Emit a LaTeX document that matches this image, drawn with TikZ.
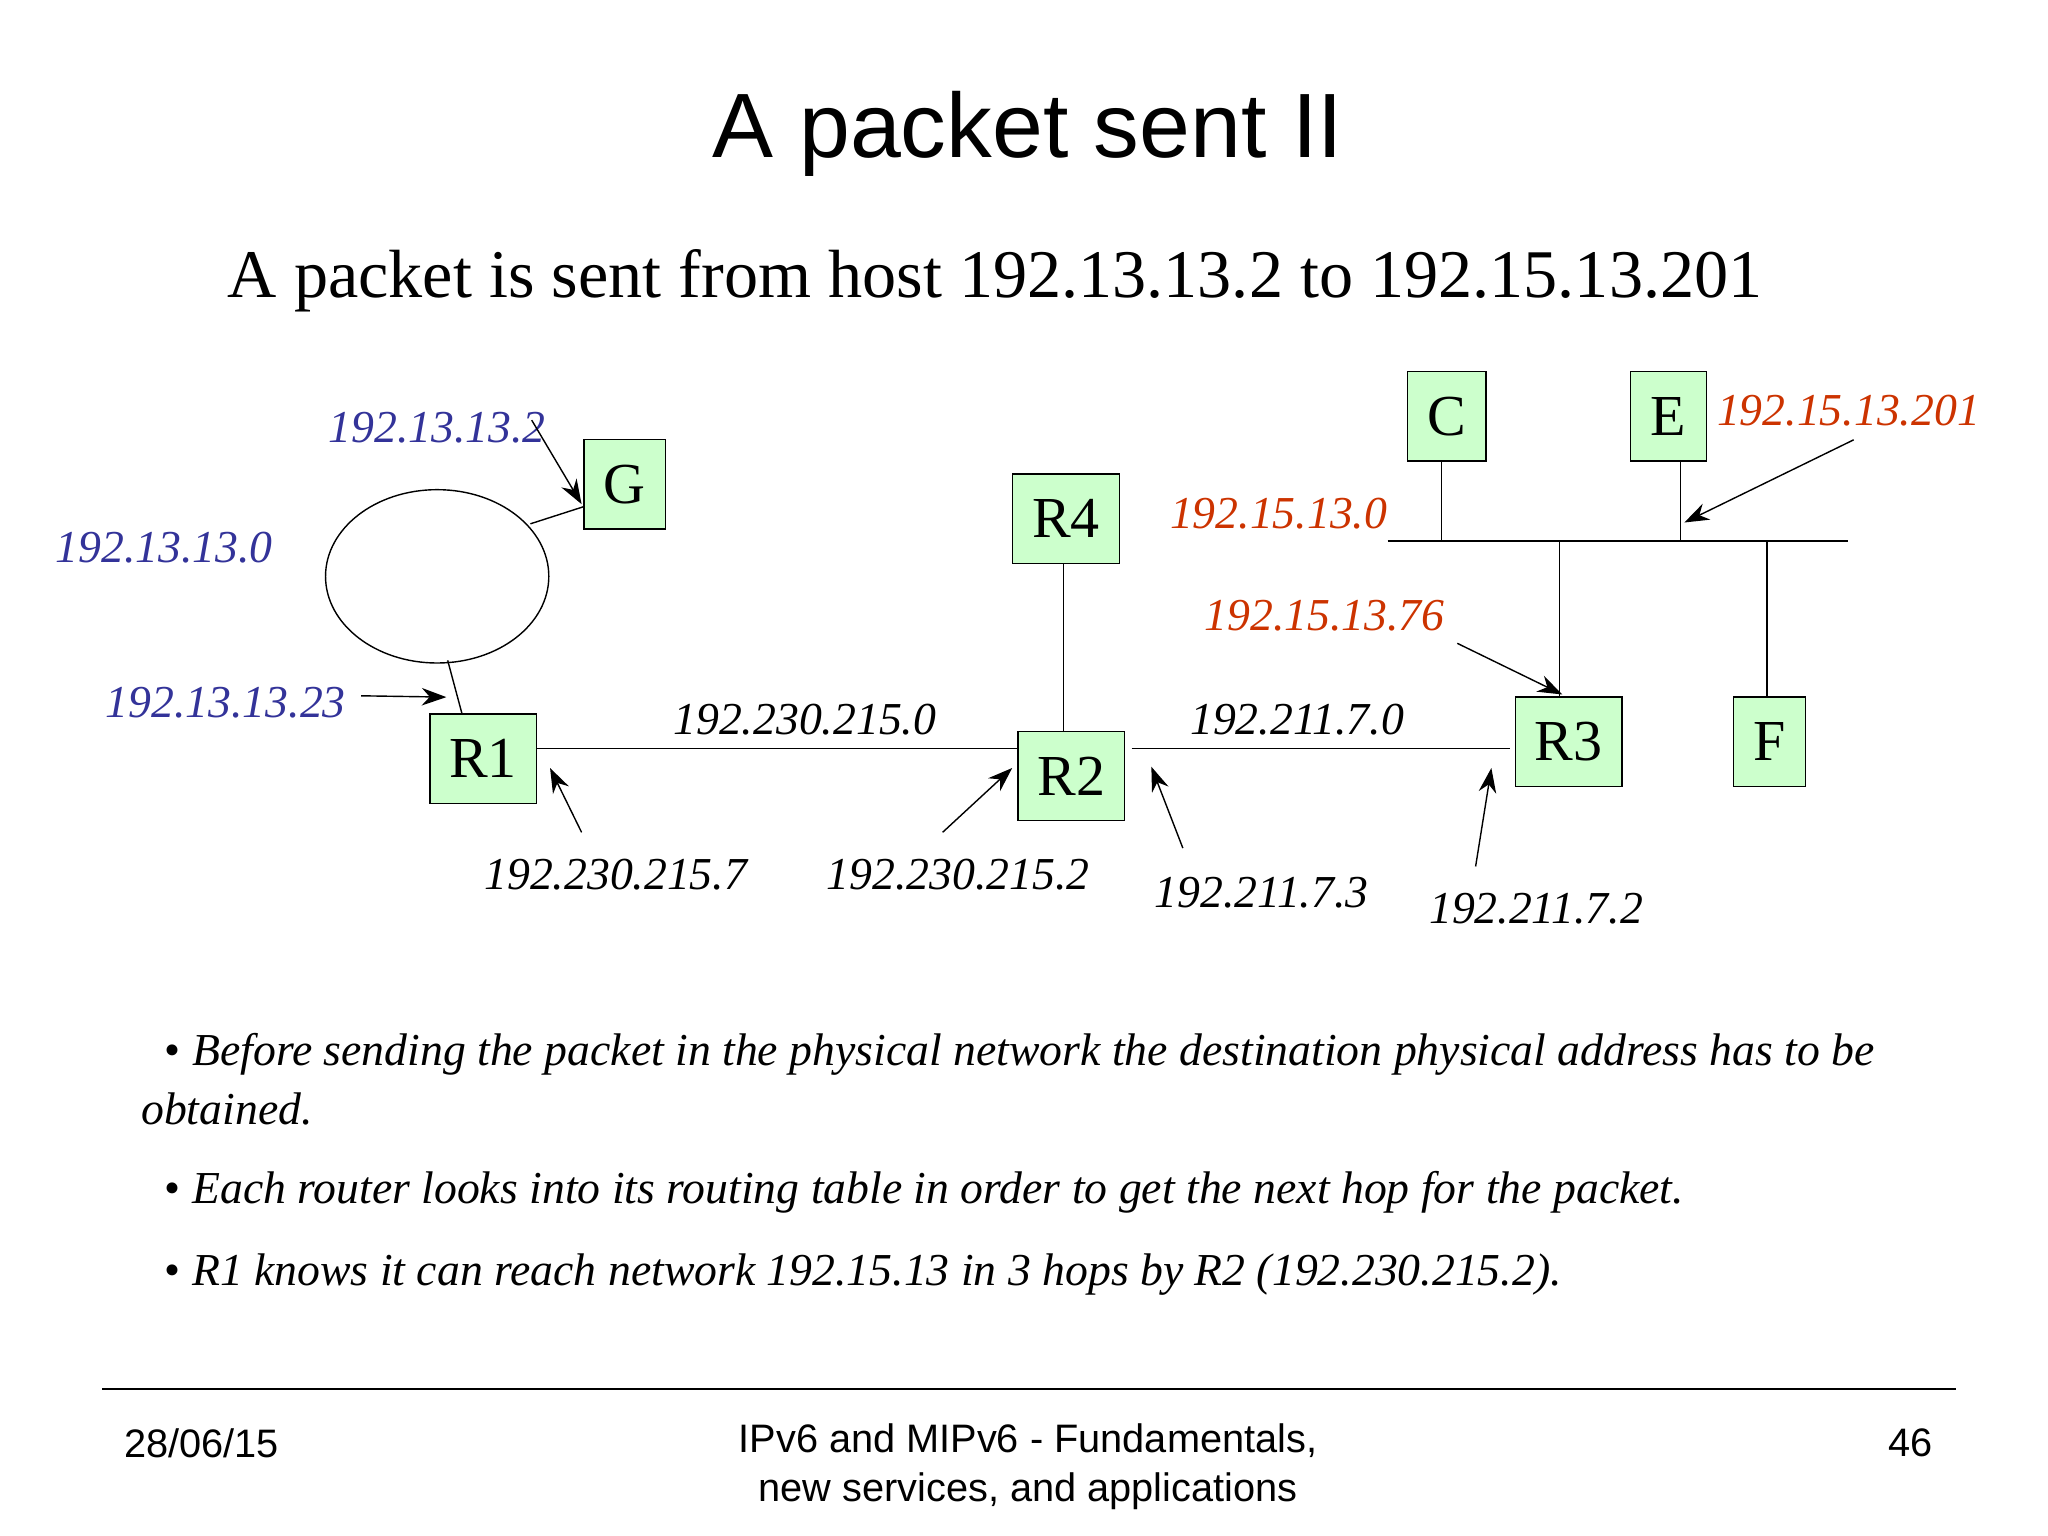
\documentclass[tikz,border=0pt]{standalone}
\usepackage{fontspec}
\setmainfont{Liberation Serif}
\newfontfamily\sansf{Liberation Sans}
\usetikzlibrary{arrows.meta,shapes.geometric}
\definecolor{boxgreen}{RGB}{204,255,204}
\definecolor{netblue}{RGB}{51,51,153}
\definecolor{netred}{RGB}{204,51,0}
\begin{document}
\begin{tikzpicture}[x=0.01313cm,y=-0.01313cm]
 	\tikzstyle{host}=[draw=black,fill=boxgreen,inner sep=0pt,minimum height=25.4pt,font=\fontsize{16.5}{19}\selectfont]
 	\tikzstyle{addr}=[font=\fontsize{13}{16}\selectfont\itshape,inner sep=1pt]
 	\tikzstyle{ptr}=[-{Stealth[length=7pt,width=5pt]},thin]
 	\useasboundingbox (0,0) rectangle (1560,1170);
 	% titles
 	\node[font=\sansf\fontsize{26}{30}\selectfont] (title) at (783,102) {A packet sent II};
 	\node[font=\fontsize{19.4}{23}\selectfont] (sub) at (758,214) {A packet is sent from host 192.13.13.2 to 192.15.13.201};
 	% hosts and routers
 	\node[host,minimum width=23.2pt] (G)  at (476,369) {G};
 	\node[host,minimum width=30.3pt] (R4) at (812,395) {R4};
 	\node[host,minimum width=22.4pt] (C)  at (1102,317) {C};
 	\node[host,minimum width=21.7pt] (E)  at (1271,317) {E};
 	\node[host,minimum width=30.3pt] (R1) at (368,578) {R1};
 	\node[host,minimum width=30.3pt] (R2) at (816,591) {R2};
 	\node[host,minimum width=30.3pt] (R3) at (1195,565) {R3};
 	\node[host,minimum width=20.5pt] (F)  at (1348,565) {F};
 	\node[draw,ellipse,minimum width=63.5pt,minimum height=49.3pt,inner sep=0pt] (net) at (333,439) {};
 	% bus 192.15.13.0
 	\coordinate (busl) at (1057,412);
 	\coordinate (busr) at (1408,412);
 	\draw (busl) -- (busr);
 	\draw (C.south -| 1098,0) -- (1098,412);
 	\draw (E.south -| 1280,0) -- (1280,412);
 	\draw (1188,412) -- (R3.north -| 1188,0);
 	\draw (1346,412) -- (F.north -| 1346,0);
 	% links
 	\draw (R4.south -| 810,0) -- (R2.north -| 810,0);
 	\draw (R1.east |- 0,570) -- (R2.west |- 0,570);
 	\draw (862,570) -- (1150,570);
 	\draw (404,399) -- (G.west |- 0,386);
 	\draw (341,503) -- (352,544);
 	% labels
 	\node[addr,text=netblue] (lG)   at (333,326) {192.13.13.2};
 	\node[addr,text=netblue] (lnet) at (125,417) {192.13.13.0};
 	\node[addr,text=netblue] (lR1)  at (172,535) {192.13.13.23};
 	\node[addr,text=netred]  (lE)   at (1408,313) {192.15.13.201};
 	\node[addr,text=netred]  (lbus) at (974,391) {192.15.13.0};
 	\node[addr,text=netred]  (lR3)  at (1009,469) {192.15.13.76};
 	\node[addr] (l12) at (613,548) {192.230.215.0};
 	\node[addr] (l23) at (988,548) {192.211.7.0};
 	\node[addr] (a1) at (469,666) {192.230.215.7};
 	\node[addr] (a2) at (730,666) {192.230.215.2};
 	\node[addr] (a3) at (961,680) {192.211.7.3};
 	\node[addr] (a4) at (1170,692) {192.211.7.2};
 	% pointers
 	\draw[ptr] (405,320) -- (443,384);
 	\draw[ptr] (275,530) -- (340,531);
 	\draw[ptr] (1412,335) -- (1283,398);
 	\draw[ptr] (1110,490) -- (1190,529);
 	\draw[ptr] (443,634) -- (419,585);
 	\draw[ptr] (718,634) -- (771,585);
 	\draw[ptr] (901,646) -- (877,584);
 	\draw[ptr] (1124,660) -- (1136,585);
 	% bullets
 	\tikzstyle{bul}=[anchor=west,font=\fontsize{13}{16}\selectfont\itshape,inner sep=0pt]
 	\node[bul] (b1) at (125,803) {\upshape\textbullet\ \itshape Before sending the packet in the physical network the destination physical address has to be};
 	\node[bul] (b1b) at (107,845) {obtained.};
 	\node[bul] (b2) at (125,908) {\upshape\textbullet\ \itshape Each router looks into its routing table in order to get the next hop for the packet.};
 	\node[bul] (b3) at (125,971) {\upshape\textbullet\ \itshape R1 knows it can reach network 192.15.13 in 3 hops by R2 (192.230.215.2).};
 	% footer
 	\draw (78,1058) -- (1490,1058);
 	\tikzstyle{foot}=[font=\sansf\fontsize{11.3}{14}\selectfont,inner sep=0pt]
 	\node[foot,anchor=west] (date) at (94,1099) {28/06/15};
 	\node[foot,align=center] (course) at (783,1117) {IPv6 and MIPv6 - Fundamentals,\\new services, and applications};
 	\node[foot,anchor=east] (page) at (1473,1099) {46};
\end{tikzpicture}
\end{document}
